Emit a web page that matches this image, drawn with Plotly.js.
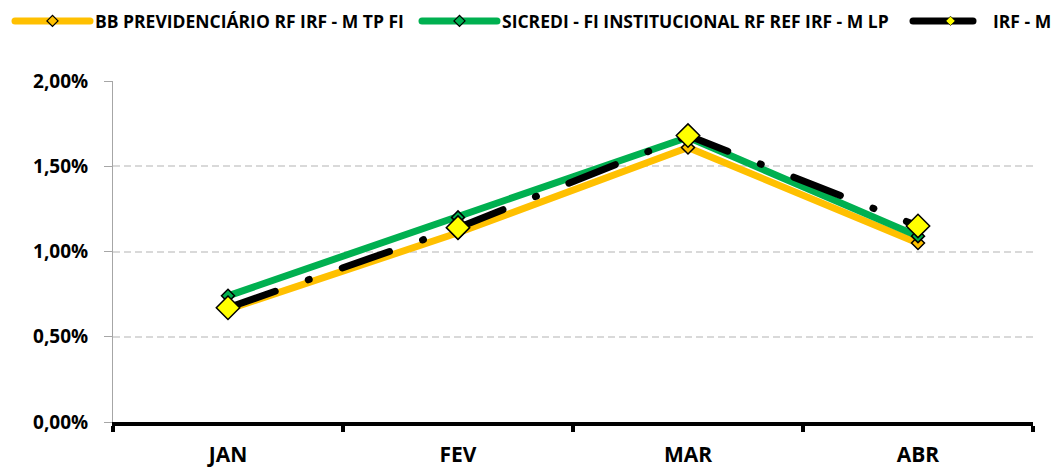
<!DOCTYPE html>
<html>
<head>
<meta charset="utf-8">
<script src="https://cdn.plot.ly/plotly-3.0.1.min.js"></script>
<style>html,body{margin:0;padding:0;background:#fff;}#chart{width:1059px;height:467px;}</style>
</head>
<body>
<div id="chart"></div>
<script>
const months = ["JAN", "FEV", "MAR", "ABR"];
const seriesNames = ["BB PREVIDENCIÁRIO RF IRF - M TP FI", "SICREDI - FI INSTITUCIONAL RF REF IRF - M LP", "IRF - M"];
const bbValues = [0.66, 1.11, 1.61, 1.05];
const sicrediValues = [0.74, 1.20, 1.67, 1.09];
const irfmValues = [0.67, 1.14, 1.68, 1.15];
const yTicks = [0, 0.5, 1.0, 1.5, 2.0];
const yTickLabels = ["0,00%", "0,50%", "1,00%", "1,50%", "2,00%"];

const FONT = "Open Sans, Liberation Sans, sans-serif";
const legendFont = {family: FONT, size: 17.5, weight: "bold", color: "#000"};
const legY = 1 - 21 / 467;

const traces = [
  {
    x: months, y: bbValues, name: seriesNames[0], type: "scatter", mode: "lines+markers",
    line: {color: "#FFC000", width: 7},
    marker: {symbol: "diamond", size: 10, color: "#FFC000", line: {color: "#000", width: 1.5}},
    legend: "legend"
  },
  {
    x: months, y: sicrediValues, name: seriesNames[1], type: "scatter", mode: "lines+markers",
    line: {color: "#00B050", width: 7},
    marker: {symbol: "diamond", size: 10, color: "#00B050", line: {color: "#000", width: 1.5}},
    legend: "legend2"
  },
  {
    x: months, y: irfmValues, name: seriesNames[2], type: "scatter", mode: "lines+markers",
    line: {color: "#000000", width: 7, dash: "50px,35px,1px,35px"},
    marker: {symbol: "diamond", size: 18, color: "#FFFF00", line: {color: "#000", width: 1.5}},
    legend: "legend3"
  }
];

function leg(x) {
  return {
    x: x, xref: "container", xanchor: "left",
    y: legY, yref: "container", yanchor: "middle",
    orientation: "h", itemwidth: 75, font: legendFont,
    bgcolor: "rgba(0,0,0,0)", borderwidth: 0
  };
}

const layout = {
  width: 1059, height: 467,
  margin: {l: 113, r: 26, t: 81, b: 45},
  paper_bgcolor: "#fff", plot_bgcolor: "#fff",
  showlegend: true,
  legend: leg(10 / 1059),
  legend2: leg(417 / 1059),
  legend3: leg(908 / 1059),
  xaxis: {
    type: "category", range: [-0.5, 3.5],
    showline: true, linecolor: "#000", linewidth: 4,
    ticks: "outside", tickson: "boundaries", ticklen: 6, tickwidth: 4, tickcolor: "#000",
    showgrid: false, zeroline: false,
    tickfont: {family: FONT, size: 21, weight: "bold", color: "#000"},
    ticklabelstandoff: 11
  },
  yaxis: {
    range: [0, 2], tickvals: yTicks, ticktext: yTickLabels,
    showline: true, linecolor: "#A6A6A6", linewidth: 1,
    ticks: "outside", ticklen: 8, tickwidth: 1, tickcolor: "#A6A6A6",
    showgrid: true, gridcolor: "#D9D9D9", gridwidth: 1.5, griddash: "7px,4px",
    zeroline: false,
    tickfont: {family: FONT, size: 19, weight: "bold", color: "#000"},
    ticklabelstandoff: 12
  }
};

Plotly.newPlot("chart", traces, layout, {displayModeBar: false, responsive: false}).then(function () {
  document.querySelectorAll(".scatterlayer .js-line, .legendlines path").forEach(function (p) {
    p.style.strokeLinecap = "round";
    p.style.strokeLinejoin = "round";
  });
  const lls = document.querySelectorAll(".legendlines path");
  lls.forEach(function (p, i) {
    p.style.strokeDasharray = (i === lls.length - 1) ? "60px,200px" : "none";
  });
  const pts = document.querySelectorAll(".legendpoints path.scatterpts");
  pts.forEach(function (p, i) {
    const base = p.getAttribute("transform") || "";
    p.setAttribute("transform", base + (i === pts.length - 1 ? " scale(0.45)" : " scale(0.85)"));
  });
});
</script>
</body>
</html>
